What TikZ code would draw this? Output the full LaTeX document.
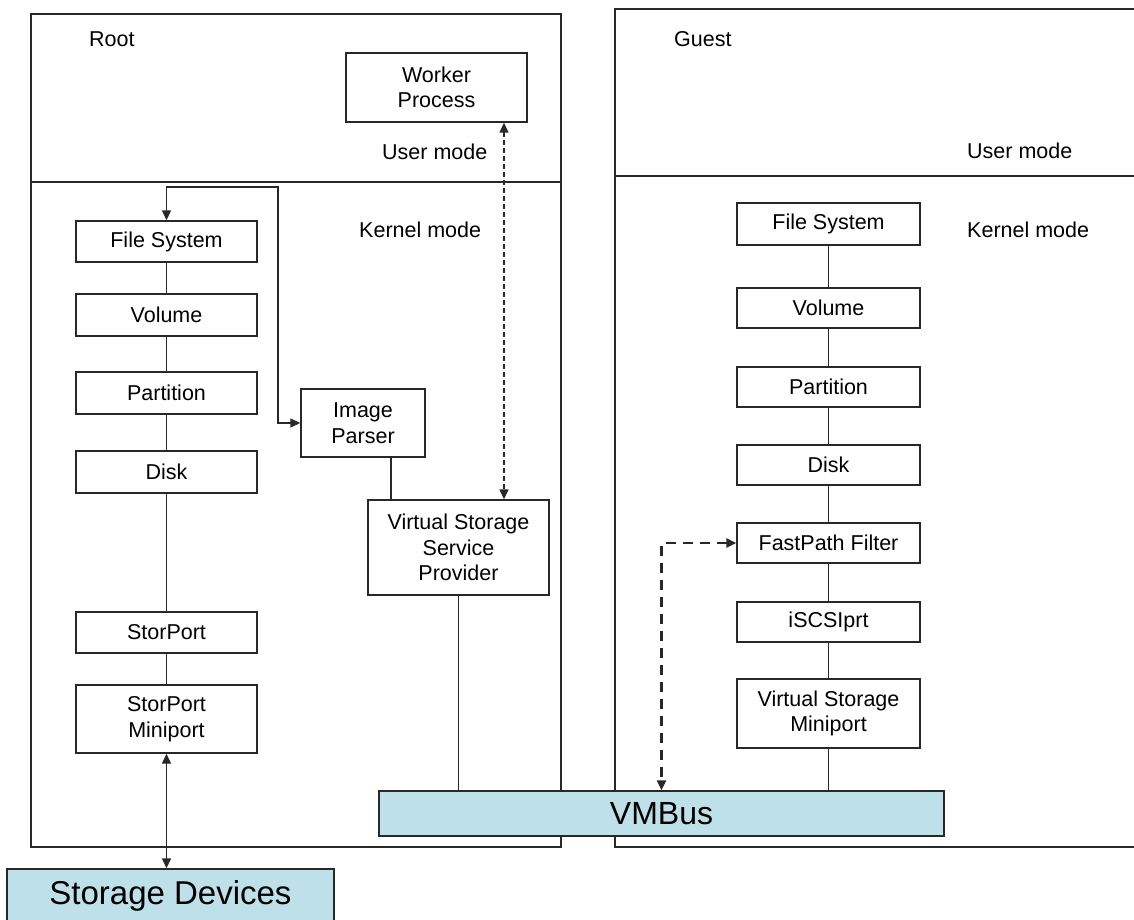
\documentclass[tikz,border=0pt]{standalone}
\usepackage{fontspec}
\setmainfont{Liberation Sans}
\usetikzlibrary{arrows.meta}
\definecolor{busblue}{RGB}{190,224,232}
\definecolor{linegray}{RGB}{40,40,40}
\begin{document}
\begin{tikzpicture}[x=1pt,y=-1pt,
  every node/.style={font=\fontsize{21.5}{25.5}\selectfont},
  box/.style={draw=linegray, line width=1.4pt, fill=white, inner sep=0pt, align=center},
  bus/.style={draw=linegray, line width=1.4pt, fill=busblue, inner sep=0pt, font=\fontsize{32}{36}\selectfont},
  lbl/.style={inner sep=0pt, anchor=west},
  conn/.style={draw=linegray, line width=1.4pt},
  arr/.style={conn, {Triangle[length=10pt,width=9pt]}-{Triangle[length=10pt,width=9pt]}},
  finedash/.style={arr, dash pattern=on 5pt off 3pt},
  boldash/.style={conn, line width=2.4pt, dash pattern=on 10pt off 7pt, {Triangle[length=10pt,width=9pt]}-{Triangle[length=10pt,width=9pt]}},
  region/.style={draw=linegray, line width=1.4pt}
]
\useasboundingbox (0,0) rectangle (1134,920);
% partitions
\draw[region] (31,14) rectangle (561,847);
\draw[region] (31,182) -- (561,182);
\draw[region] (615,9) rectangle (1150,847);
\draw[region] (615,176) -- (1150,176);
% labels
\node[lbl] (root) at (89,39) {Root};
\node[lbl] (rum) at (382,152) {User mode};
\node[lbl] (rkm) at (359,230) {Kernel mode};
\node[lbl] (guest) at (674,39) {Guest};
\node[lbl] (gum) at (967,151) {User mode};
\node[lbl] (gkm) at (967,230) {Kernel mode};
% root boxes
\node[box, minimum width=181pt, minimum height=69pt] (wp) at (436.5,87.5) {Worker\\Process};
\node[box, minimum width=181pt, minimum height=41pt] (fsL) at (166.5,241.5) {File System};
\node[box, minimum width=181pt, minimum height=42pt] (volL) at (166.5,315) {Volume};
\node[box, minimum width=181pt, minimum height=42pt] (parL) at (166.5,393) {Partition};
\node[box, minimum width=181pt, minimum height=42pt] (diskL) at (166.5,472) {Disk};
\node[box, minimum width=181pt, minimum height=41pt] (spL) at (166.5,632.5) {StorPort};
\node[box, minimum width=181pt, minimum height=68pt] (spmL) at (166.5,719) {StorPort\\Miniport};
\node[box, minimum width=124pt, minimum height=68pt] (ip) at (363,423) {Image\\Parser};
\node[box, minimum width=181pt, minimum height=95pt] (vssp) at (458.5,547.5) {Virtual Storage\\Service\\Provider};
% guest boxes
\node[box, minimum width=183pt, minimum height=42pt] (fsR) at (828.5,224) {File System};
\node[box, minimum width=183pt, minimum height=40pt] (volR) at (828.5,308) {Volume};
\node[box, minimum width=183pt, minimum height=40pt] (parR) at (828.5,387) {Partition};
\node[box, minimum width=183pt, minimum height=40pt] (diskR) at (828.5,465) {Disk};
\node[box, minimum width=183pt, minimum height=40pt] (fp) at (828.5,543) {FastPath Filter};
\node[box, minimum width=183pt, minimum height=40pt] (iscsi) at (828.5,622) {iSCSIprt};
\node[box, minimum width=183pt, minimum height=69pt] (vsm) at (828.5,713.5) {Virtual Storage\\Miniport};
% buses
\node[bus, minimum width=565pt, minimum height=45pt] (vm) at (661.5,813.5) {VMBus};
\node[bus, minimum width=327pt, minimum height=54pt, font=\fontsize{33}{38}\selectfont] (st) at (170.5,896) {Storage Devices};
% connectors root
\draw[conn] (fsL) -- (volL);
\draw[conn] (volL) -- (parL);
\draw[conn] (parL) -- (diskL);
\draw[conn] (diskL) -- (spL);
\draw[conn] (spL) -- (spmL);
\draw[arr] (spmL.south) -- (spmL.south |- st.north);
\coordinate (loop) at (278,187);
\draw[arr] (fsL.north) |- (loop) |- (ip.west);
\draw[conn] ([xshift=28pt]ip.south) -- ([xshift=28pt]ip.south |- vssp.north);
\draw[finedash] ([xshift=67.5pt]wp.south) -- ([xshift=67.5pt]wp.south |- vssp.north);
\draw[conn] (vssp.south) -- (vssp.south |- vm.north);
% connectors guest
\draw[conn] (fsR) -- (volR);
\draw[conn] (volR) -- (parR);
\draw[conn] (parR) -- (diskR);
\draw[conn] (diskR) -- (fp);
\draw[conn] (fp) -- (iscsi);
\draw[conn] (iscsi) -- (vsm);
\draw[conn] (vsm.south) -- (vsm.south |- vm.north);
\draw[boldash] (fp.west) -| (vm.north);
\end{tikzpicture}
\end{document}
